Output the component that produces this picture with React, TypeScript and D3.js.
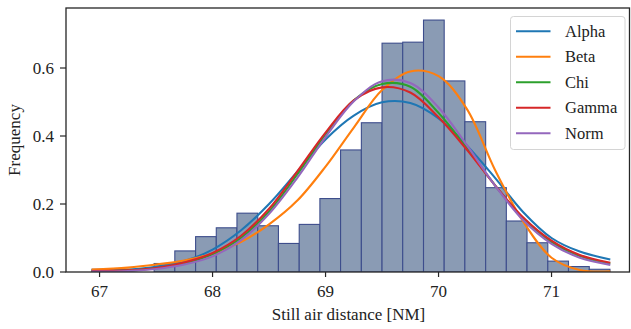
import React from "react";
import * as d3 from "d3";

// Histogram (density) — bin edges and bar heights
const binEdges = [66.933, 67.116, 67.3, 67.483, 67.666, 67.85, 68.033, 68.216, 68.4, 68.583, 68.767, 68.95, 69.133, 69.317, 69.5, 69.683, 69.867, 70.05, 70.233, 70.417, 70.6, 70.783, 70.967, 71.15, 71.334, 71.517];
const binDensity = [0.008, 0, 0, 0.025, 0.062, 0.104, 0.13, 0.173, 0.136, 0.084, 0.14, 0.216, 0.359, 0.439, 0.673, 0.676, 0.741, 0.562, 0.442, 0.248, 0.15, 0.086, 0.032, 0.016, 0.008];

// Fitted PDF curves sampled at these x positions
const curveX = [66.93, 67.25, 67.5, 67.75, 68.0, 68.25, 68.5, 68.75, 69.0, 69.25, 69.5, 69.75, 70.0, 70.25, 70.5, 70.75, 71.0, 71.25, 71.52];
const alphaY = [0.004, 0.007, 0.015, 0.032, 0.066, 0.122, 0.2, 0.295, 0.39, 0.46, 0.499, 0.497, 0.452, 0.372, 0.277, 0.176, 0.1, 0.06, 0.037];
const betaY = [0.007, 0.013, 0.022, 0.034, 0.054, 0.088, 0.14, 0.21, 0.31, 0.425, 0.535, 0.59, 0.576, 0.48, 0.3, 0.148, 0.042, 0.006, 0.002];
const chiY = [0.002, 0.004, 0.011, 0.026, 0.053, 0.1, 0.178, 0.287, 0.405, 0.505, 0.553, 0.545, 0.468, 0.365, 0.255, 0.157, 0.088, 0.047, 0.025];
const gammaY = [0.003, 0.005, 0.012, 0.028, 0.056, 0.106, 0.186, 0.296, 0.41, 0.505, 0.543, 0.528, 0.455, 0.36, 0.255, 0.16, 0.092, 0.05, 0.027];
const normY = [0.001, 0.003, 0.009, 0.022, 0.046, 0.093, 0.171, 0.277, 0.397, 0.502, 0.561, 0.556, 0.484, 0.373, 0.254, 0.152, 0.083, 0.042, 0.021];

const seriesNames = ["Alpha", "Beta", "Chi", "Gamma", "Norm"];
const seriesColors = ["#1f77b4", "#ff7f0e", "#2ca02c", "#d62728", "#9467bd"];
const seriesValues = [alphaY, betaY, chiY, gammaY, normY];

const xTicks = [67, 68, 69, 70, 71];
const yTicks = [0.0, 0.2, 0.4, 0.6];

const W = 631;
const H = 329;
const left = 66;
const right = 629.5;
const top = 8;
const bottom = 272;
const FONT = "'Liberation Serif', 'Times New Roman', serif";

export default function App() {
  const x = d3.scaleLinear().domain([66.703, 71.69]).range([left, right]);
  const y = d3.scaleLinear().domain([0, 0.7765]).range([bottom, top]);

  const line = d3
    .line<number>()
    .x((_, i) => x(curveX[i]))
    .y((v) => y(Math.max(0, v)))
    .curve(d3.curveCatmullRom.alpha(0.5));

  const bars = binDensity.map((v, i) => ({
    x0: binEdges[i],
    x1: binEdges[i + 1],
    v,
  }));

  const legendX = 510.5;
  const legendY = 16.5;
  const legendW = 114.5;
  const legendH = 133;
  const rowGap = 25.5;

  return (
    <svg
      width={W}
      height={H}
      style={{ position: "absolute", left: 0, top: 0, background: "#fff" }}
      fontFamily={FONT}
    >
      <rect x={0} y={0} width={W} height={H} fill="#fff" />
      <defs>
        <clipPath id="plot">
          <rect x={left} y={top} width={right - left} height={bottom - top} />
        </clipPath>
      </defs>
      <g clipPath="url(#plot)">
        {bars
          .filter((b) => b.v > 0)
          .map((b, i) => (
            <rect
              key={i}
              x={x(b.x0)}
              y={y(b.v)}
              width={x(b.x1) - x(b.x0)}
              height={y(0) - y(b.v)}
              fill="#8a9bb4"
              stroke="#3d4d8c"
              strokeWidth={1.1}
            />
          ))}
        {seriesValues.map((vals, i) => (
          <path
            key={seriesNames[i]}
            d={line(vals) || ""}
            fill="none"
            stroke={seriesColors[i]}
            strokeWidth={2.1}
          />
        ))}
      </g>

      {/* spines */}
      <rect
        x={left}
        y={top}
        width={right - left}
        height={bottom - top}
        fill="none"
        stroke="#262626"
        strokeWidth={1.3}
      />

      {/* x ticks */}
      {xTicks.map((t) => (
        <g key={t}>
          <line x1={x(t)} x2={x(t)} y1={bottom} y2={bottom + 5} stroke="#262626" strokeWidth={1.2} />
          <text x={x(t)} y={297} textAnchor="middle" fontSize={17} fill="#222">
            {t}
          </text>
        </g>
      ))}
      {/* y ticks */}
      {yTicks.map((t) => (
        <g key={t}>
          <line x1={left - 6} x2={left} y1={y(t)} y2={y(t)} stroke="#262626" strokeWidth={1.2} />
          <text x={54} y={y(t)} dy="0.34em" textAnchor="end" fontSize={17} fill="#222">
            {t.toFixed(1)}
          </text>
        </g>
      ))}

      <text x={348.5} y={320} textAnchor="middle" fontSize={17} fill="#222">
        Still air distance [NM]
      </text>
      <text
        transform={`translate(20, ${(top + bottom) / 2}) rotate(-90)`}
        textAnchor="middle"
        fontSize={17}
        fill="#222"
      >
        Frequency
      </text>

      {/* legend */}
      <rect
        x={legendX}
        y={legendY}
        width={legendW}
        height={legendH}
        rx={3}
        ry={3}
        fill="#fff"
        fillOpacity={0.85}
        stroke="#d4d4d4"
        strokeWidth={1}
      />
      {seriesNames.map((name, i) => {
        const cy = 31.3 + i * rowGap;
        return (
          <g key={name}>
            <line x1={516} x2={550.5} y1={cy} y2={cy} stroke={seriesColors[i]} strokeWidth={2.1} />
            <text x={565} y={cy} dy="0.33em" fontSize={16.5} fill="#222">
              {name}
            </text>
          </g>
        );
      })}
    </svg>
  );
}
